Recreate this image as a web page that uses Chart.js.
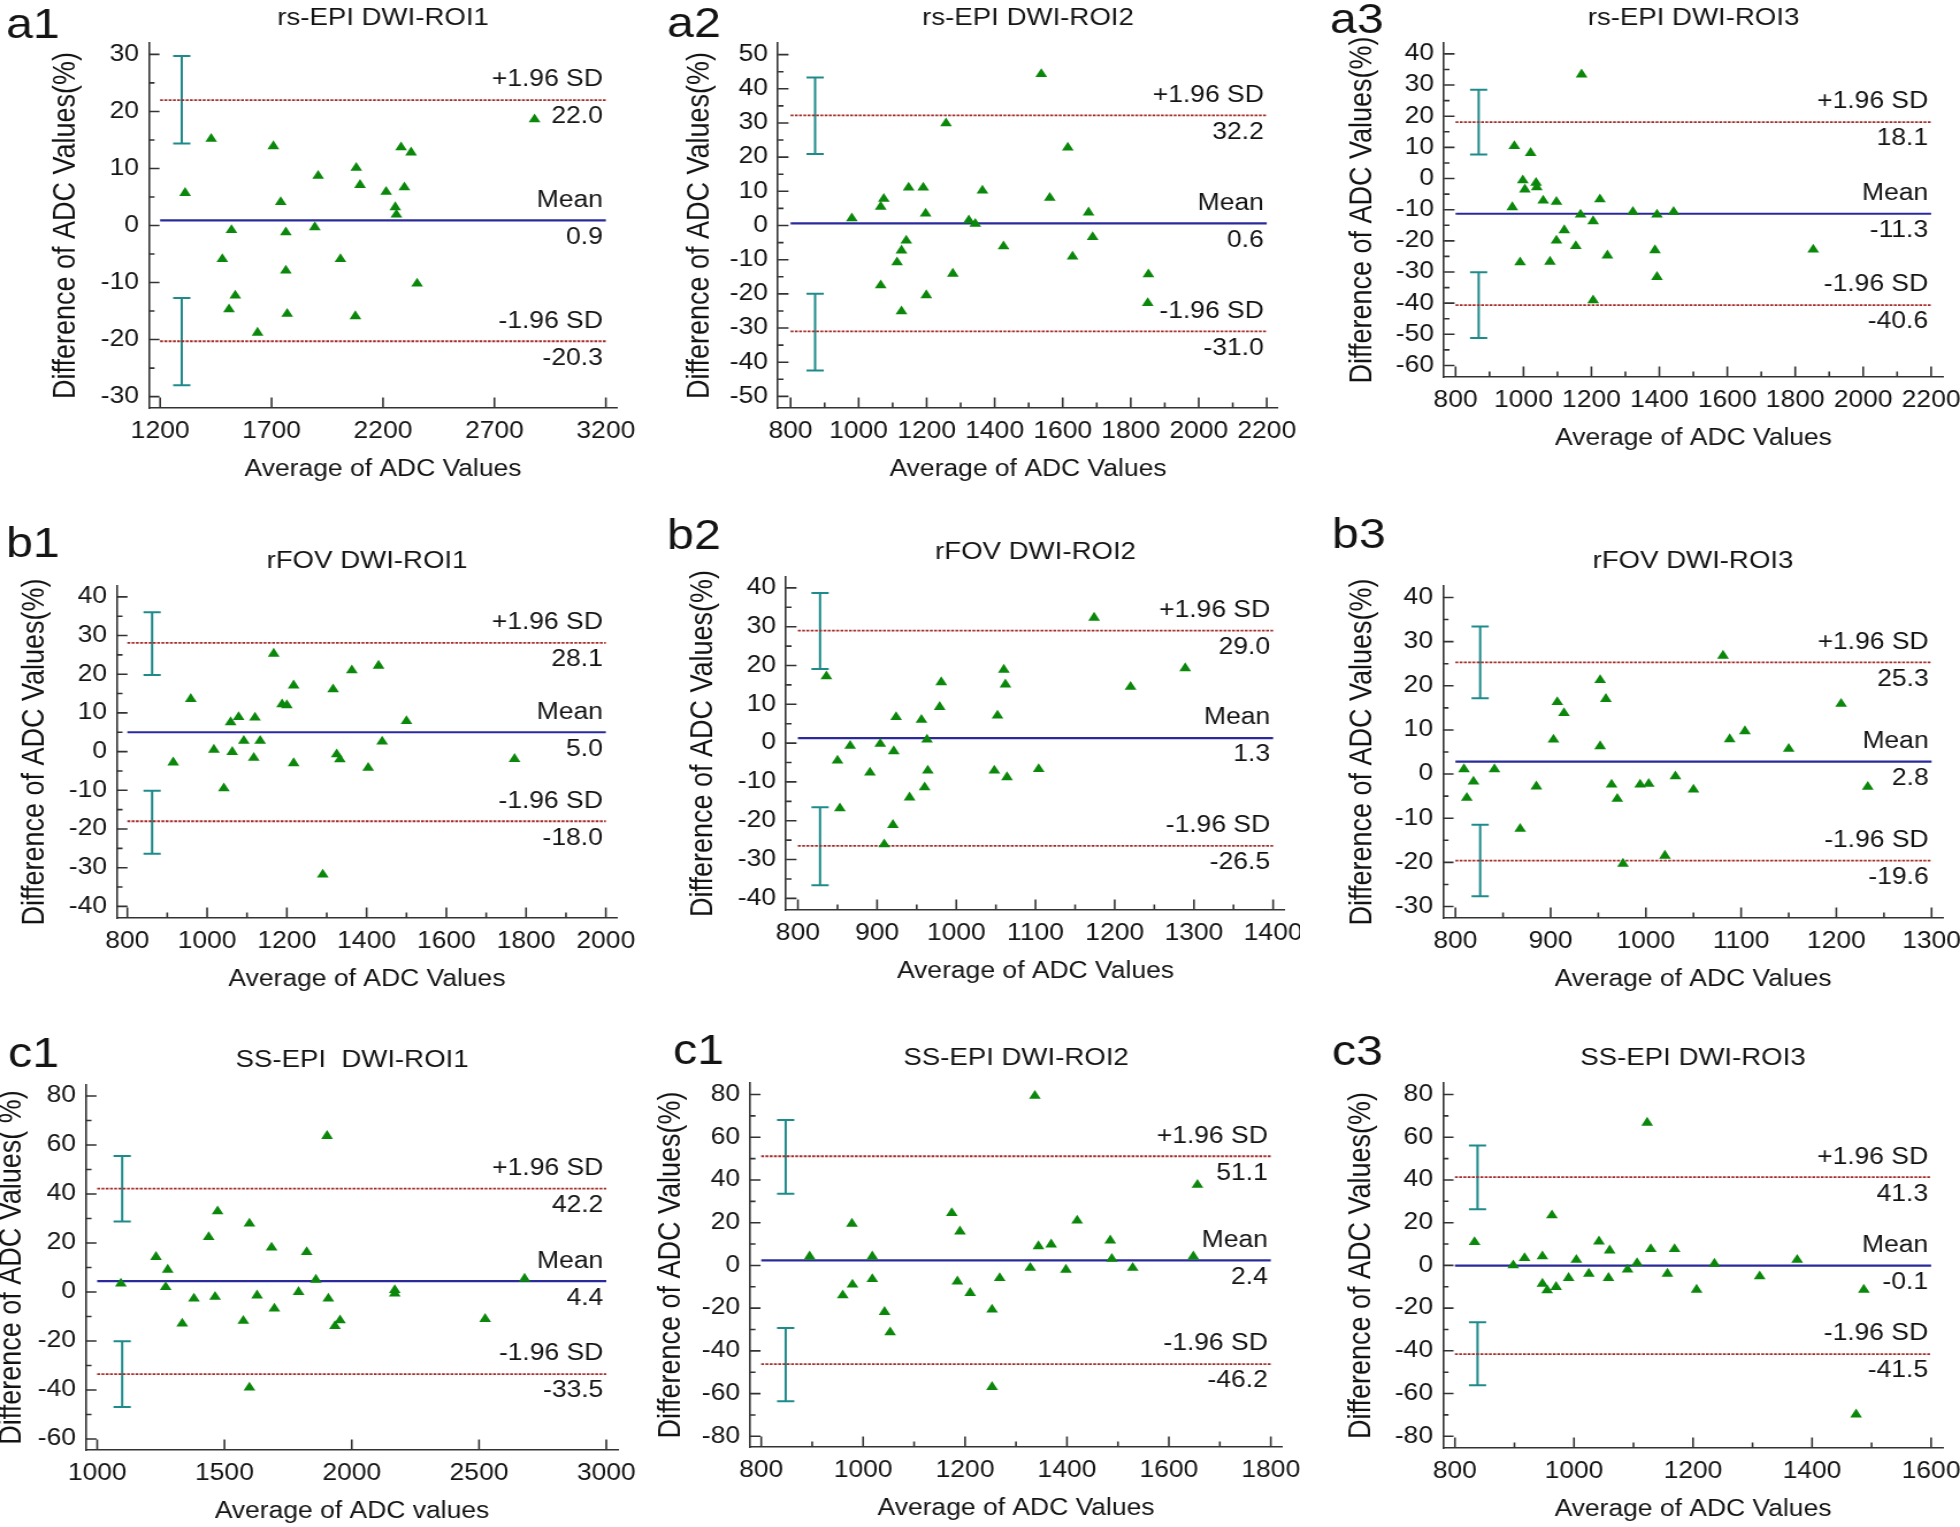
<!DOCTYPE html>
<html lang="en">
  <head>
    <meta charset="UTF-8">
    <meta name="viewport" content="width=device-width, initial-scale=1.0">
    <title>Bland-Altman plots of ADC values</title>
    <script src="https://cdn.jsdelivr.net/npm/chart.js@4.4.1/dist/chart.umd.min.js"></script>
    <style>
      html, body { margin: 0; background: #fff; }
      body { position: relative; width: 1960px; height: 1527px; overflow: hidden; }
      canvas { position: absolute; transform-origin: 0 0; }
    </style>
  </head>
  <body>
    <script type="text/javascript">
      // average of ADC values (x) and difference of ADC values in % (y)
      const a1X = [1312, 1429, 1520, 1479, 1537, 1509, 1637, 1708, 1741, 1764, 1764, 1770, 1894, 1909, 2009, 2080, 2097, 2076, 2214, 2255, 2260, 2281, 2296, 2326, 2353, 2880]
      const a1Y = [5.7, 15.2, -0.8, -5.9, -12.3, -14.7, -18.8, 13.9, 4.1, -1.2, -7.9, -15.5, -0.3, 8.7, -5.9, 10.1, 7.1, -15.9, 5.9, 3.2, 1.9, 13.7, 6.7, 12.8, -10.2, 18.6]
      const a2X = [980, 1065, 1074, 1065, 1113, 1126, 1140, 1126, 1147, 1190, 1197, 1199, 1257, 1277, 1324, 1343, 1364, 1426, 1537, 1562, 1615, 1629, 1676, 1688, 1852, 1850]
      const a2Y = [2.1, 5.5, 7.8, -17.5, -10.8, -7.3, -4.4, -25.1, 11.1, 11.1, 3.5, -20.4, 29.9, -14.1, 1.5, 0.5, 10.2, -6.1, 44.3, 8.1, 22.8, -9.1, 3.8, -3.4, -14.3, -22.7]
      const a3X = [967, 973, 990, 998, 1004, 1021, 1037, 1039, 1058, 1078, 1097, 1097, 1120, 1154, 1168, 1171, 1205, 1205, 1225, 1247, 1322, 1387, 1393, 1393, 1442, 1853]
      const a3Y = [-9.2, 10.4, -26.9, -0.6, -3.5, 8.2, -1.4, -2.8, -7.1, -26.7, -7.5, -19.9, -16.6, -21.7, -11.6, 33.4, -13.7, -39.1, -6.7, -24.7, -10.7, -23.0, -11.6, -31.6, -10.7, -22.8]
      const b1X = [915, 959, 1017, 1042, 1059, 1063, 1079, 1092, 1117, 1120, 1133, 1167, 1188, 1200, 1217, 1217, 1290, 1316, 1325, 1333, 1363, 1404, 1430, 1439, 1500, 1771]
      const b1Y = [-2.8, 13.6, 0.5, -9.5, 7.6, -0.1, 8.9, 2.8, -1.6, 8.8, 2.8, 25.3, 12.2, 12.0, 17.1, -3.0, -31.8, 16.1, -0.7, -2.0, 21.0, -4.2, 22.2, 2.6, 7.9, -1.9]
      const b2X = [836, 850, 853, 866, 891, 904, 909, 920, 921, 924, 941, 956, 960, 963, 964, 979, 981, 1048, 1052, 1060, 1062, 1064, 1104, 1174, 1220, 1289]
      const b2Y = [17.2, -4.5, -16.8, -0.7, -7.6, -0.2, -26.1, -21.1, -2.1, 6.7, -14.0, 6.0, -11.4, 0.9, -7.1, 9.3, 15.7, -7.1, 7.1, 18.9, 15.1, -8.8, -6.7, 32.3, 14.5, 19.3]
      const b3X = [809, 812, 819, 841, 868, 885, 903, 907, 914, 952, 952, 958, 964, 970, 976, 994, 1003, 1020, 1031, 1050, 1081, 1088, 1104, 1150, 1205, 1233]
      const b3Y = [1.1, -5.4, -1.7, 1.1, -12.4, -2.8, 7.8, 16.3, 13.8, 21.3, 6.3, 17.0, -2.4, -5.6, -20.3, -2.4, -2.2, -18.5, -0.5, -3.5, 26.8, 7.9, 9.7, 5.7, 15.9, -2.9]
      const c1X = [1093, 1231, 1269, 1277, 1334, 1380, 1438, 1463, 1473, 1574, 1598, 1598, 1628, 1685, 1696, 1791, 1823, 1859, 1903, 1908, 1934, 1954, 2169, 2169, 2524, 2679]
      const c1Y = [3.4, 14.3, 2.0, 9.1, -12.9, -2.7, 22.4, -2.0, 32.9, -11.8, 27.9, -39.0, -1.4, 18.1, -6.8, 0.0, 16.3, 5.0, 63.7, -2.7, -13.9, -11.6, 0.8, -0.6, -11.0, 5.4]
      const c2X = [895, 960, 978, 979, 1018, 1018, 1042, 1053, 1174, 1185, 1190, 1210, 1253, 1253, 1268, 1328, 1337, 1344, 1369, 1398, 1420, 1485, 1488, 1529, 1648, 1656]
      const c2Y = [4.2, -14.0, 19.5, -9.0, 4.2, -6.4, -21.8, -31.3, 24.5, -7.5, 15.9, -12.9, -20.7, -56.9, -5.9, -1.1, 79.4, 9.0, 9.8, -2.0, 21.0, 11.7, 3.1, -1.1, 4.2, 37.7]
      const c3X = [833, 898, 917, 947, 947, 955, 963, 970, 991, 1004, 1025, 1042, 1058, 1060, 1090, 1106, 1123, 1129, 1157, 1169, 1206, 1236, 1312, 1375, 1474, 1487]
      const c3Y = [10.9, 0.0, 3.4, 4.2, -8.6, -11.7, 23.4, -10.1, -5.9, 2.6, -3.9, 11.2, -5.9, 7.0, -2.0, 1.1, 66.8, 7.6, -3.9, 7.6, -11.4, 0.8, -5.1, 2.6, -69.8, -11.4]

      // +1.96 SD, mean, -1.96 SD
      const a1Lines = [22.0, 0.9, -20.3]
      const a2Lines = [32.2, 0.6, -31.0]
      const a3Lines = [18.1, -11.3, -40.6]
      const b1Lines = [28.1, 5.0, -18.0]
      const b2Lines = [29.0, 1.3, -26.5]
      const b3Lines = [25.3, 2.8, -19.6]
      const c1Lines = [42.2, 4.4, -33.5]
      const c2Lines = [51.1, 2.4, -46.2]
      const c3Lines = [41.3, -0.1, -41.5]

      // confidence intervals of the limits: x of the bars, [low, high] of each
      const barXs = [1297, 872, 868, 862, 828, 826, 1098, 848, 838]
      const barHighs = [[14.4, 29.7], [20.9, 43.3], [7.7, 28.5], [19.8, 36.0], [19.1, 38.7], [17.2, 33.4], [28.8, 55.5], [33.5, 68.1], [26.3, 56.1]]
      const barLows = [[-28.0, -12.7], [-42.4, -20.0], [-51.2, -30.1], [-26.4, -10.1], [-36.6, -16.5], [-27.7, -11.5], [-46.9, -20.1], [-63.6, -29.3], [-56.1, -26.6]]

      // tick labels
      const a1XTicks = [1200, 1700, 2200, 2700, 3200]
      const a1YTicks = [-30, -20, -10, 0, 10, 20, 30]
      const a2XTicks = [800, 1000, 1200, 1400, 1600, 1800, 2000, 2200]
      const a2YTicks = [-50, -40, -30, -20, -10, 0, 10, 20, 30, 40, 50]
      const a3XTicks = [800, 1000, 1200, 1400, 1600, 1800, 2000, 2200]
      const a3YTicks = [-60, -50, -40, -30, -20, -10, 0, 10, 20, 30, 40]
      const b1XTicks = [800, 1000, 1200, 1400, 1600, 1800, 2000]
      const b1YTicks = [-40, -30, -20, -10, 0, 10, 20, 30, 40]
      const b2XTicks = [800, 900, 1000, 1100, 1200, 1300, 1400]
      const b2YTicks = [-40, -30, -20, -10, 0, 10, 20, 30, 40]
      const b3XTicks = [800, 900, 1000, 1100, 1200, 1300]
      const b3YTicks = [-30, -20, -10, 0, 10, 20, 30, 40]
      const c1XTicks = [1000, 1500, 2000, 2500, 3000]
      const c1YTicks = [-60, -40, -20, 0, 20, 40, 60, 80]
      const c2XTicks = [800, 1000, 1200, 1400, 1600, 1800]
      const c2YTicks = [-80, -60, -40, -20, 0, 20, 40, 60, 80]
      const c3XTicks = [800, 1000, 1200, 1400, 1600]
      const c3YTicks = [-80, -60, -40, -20, 0, 20, 40, 60, 80]

      const tags = ['a1', 'a2', 'a3', 'b1', 'b2', 'b3', 'c1', 'c1', 'c3']
      const titles = ['rs-EPI DWI-ROI1', 'rs-EPI DWI-ROI2', 'rs-EPI DWI-ROI3',
        'rFOV DWI-ROI1', 'rFOV DWI-ROI2', 'rFOV DWI-ROI3',
        'SS-EPI  DWI-ROI1', 'SS-EPI DWI-ROI2', 'SS-EPI DWI-ROI3']
      const yTitles = ['Difference of ADC Values(%)', 'Difference of ADC Values(%)', 'Difference of ADC Values(%)',
        'Difference of ADC Values(%)', 'Difference of ADC Values(%)', 'Difference of ADC Values(%)',
        'Difference of ADC Values( %)', 'Difference of ADC Values(%)', 'Difference of ADC Values(%)']
      const xTitles = ['Average of ADC Values', 'Average of ADC Values', 'Average of ADC Values',
        'Average of ADC Values', 'Average of ADC Values', 'Average of ADC Values',
        'Average of ADC values', 'Average of ADC Values', 'Average of ADC Values']

      const panels = [
        {x: a1X, y: a1Y, lines: a1Lines, xTicks: a1XTicks, yTicks: a1YTicks, xMinor: 0, yMinor: 5},
        {x: a2X, y: a2Y, lines: a2Lines, xTicks: a2XTicks, yTicks: a2YTicks, xMinor: 100, yMinor: 5},
        {x: a3X, y: a3Y, lines: a3Lines, xTicks: a3XTicks, yTicks: a3YTicks, xMinor: 100, yMinor: 5},
        {x: b1X, y: b1Y, lines: b1Lines, xTicks: b1XTicks, yTicks: b1YTicks, xMinor: 100, yMinor: 5},
        {x: b2X, y: b2Y, lines: b2Lines, xTicks: b2XTicks, yTicks: b2YTicks, xMinor: 50, yMinor: 5},
        {x: b3X, y: b3Y, lines: b3Lines, xTicks: b3XTicks, yTicks: b3YTicks, xMinor: 50, yMinor: 5},
        {x: c1X, y: c1Y, lines: c1Lines, xTicks: c1XTicks, yTicks: c1YTicks, xMinor: 0, yMinor: 10},
        {x: c2X, y: c2Y, lines: c2Lines, xTicks: c2XTicks, yTicks: c2YTicks, xMinor: 100, yMinor: 10},
        {x: c3X, y: c3Y, lines: c3Lines, xTicks: c3XTicks, yTicks: c3YTicks, xMinor: 100, yMinor: 10}
      ]

      // page layout (page pixels): cell, plot area [left, top, right, bottom], axis extents, tag position, y title centre
      const boxes = [
        {cell: [0, 0, 650, 500], area: [149, 43, 617, 408], xRange: [1150, 3250], yRange: [-32, 32], tagAt: [6, 38], yTitleX: 66},
        {cell: [650, 0, 650, 500], area: [778, 43, 1278, 408], xRange: [763, 2233], yRange: [-53.4, 53.4], tagAt: [667, 37], yTitleX: 700},
        {cell: [1300, 0, 660, 500], area: [1444, 43, 1943, 377], xRange: [766, 2235], yRange: [-63.7, 43.5], tagAt: [1330, 33], yTitleX: 1363},
        {cell: [0, 500, 650, 510], area: [117, 586, 617, 918], xRange: [774, 2028], yRange: [-43, 42.8], tagAt: [6, 557], yTitleX: 35},
        {cell: [650, 500, 650, 510], area: [786, 577, 1285, 910], xRange: [785, 1415], yRange: [-43, 42.8], tagAt: [667, 549], yTitleX: 703},
        {cell: [1300, 500, 660, 510], area: [1443, 586, 1943, 918], xRange: [787, 1312], yRange: [-32.6, 42.6], tagAt: [1332, 548], yTitleX: 1363},
        {cell: [0, 1010, 650, 517], area: [86, 1085, 618, 1450], xRange: [956, 3046], yRange: [-64.5, 84.5], tagAt: [8, 1067], yTitleX: 12},
        {cell: [650, 1010, 650, 517], area: [750, 1083, 1282, 1447], xRange: [778, 1822], yRange: [-85, 85.4], tagAt: [673, 1064], yTitleX: 671},
        {cell: [1300, 1010, 660, 517], area: [1443, 1083, 1943, 1448], xRange: [780, 1620], yRange: [-85.5, 85.4], tagAt: [1332, 1065], yTitleX: 1361}
      ]

      const STRETCH = 1.15 // the original figure is a bit wider than tall
      const INK = '#141414'
      const AXIS = '#333333'
      const GREEN = '#0b880b'
      const BLUE = '#2a2a9c'
      const RED = '#a52a28'
      const TEAL = '#1e8a8a'
      const FONT = "'Liberation Sans', Arial, sans-serif"

      Chart.defaults.color = INK
      Chart.defaults.font.family = FONT

      function minorTicks(major, step) {
        const out = []
        if (!step) return out
        for (let v = major[0] + step; v < major[major.length - 1]; v += step) {
          if (!major.includes(v)) out.push(v)
        }
        return out
      }

      function drawPanel(p, i) {
        const g = boxes[i]
        const [cx, cy, cw, ch] = g.cell
        const [L, T, R, B] = g.area
        const W = Math.round(cw / STRETCH)
        const sx = cw / W
        const left = (L - cx) / sx
        const right = (R - cx) / sx

        const canvas = document.createElement('canvas')
        canvas.width = W
        canvas.height = ch
        Object.assign(canvas.style, {
          left: cx + 'px', top: cy + 'px', width: W + 'px', height: ch + 'px',
          transform: 'scaleX(' + sx + ')'
        })
        document.body.appendChild(canvas)

        const xFirst = p.xTicks[0]
        const xLast = p.xTicks[p.xTicks.length - 1]
        const [upper, mean, lower] = p.lines

        const hline = (v, color, width, dash) => ({
          data: [{x: xFirst, y: v}, {x: xLast, y: v}],
          showLine: true, borderColor: color, borderWidth: width, borderDash: dash, pointRadius: 0
        })
        const bar = lohi => ({
          data: [{x: barXs[i], y: lohi[0]}, {x: barXs[i], y: lohi[1]}],
          showLine: true, borderColor: TEAL, borderWidth: 2,
          pointStyle: 'line', pointRadius: 7.5, pointHoverRadius: 7.5,
          pointBorderColor: TEAL, pointBorderWidth: 2
        })

        const marks = {
          id: 'marks',
          beforeDatasetsDraw(chart) {
            const {ctx, chartArea: a, scales: {x, y}} = chart
            ctx.save()
            ctx.strokeStyle = AXIS
            ctx.lineWidth = 1.6
            ctx.beginPath()
            const xTick = (v, len) => {
              const px = x.getPixelForValue(v)
              ctx.moveTo(px, a.bottom)
              ctx.lineTo(px, a.bottom - len)
            }
            const yTick = (v, len) => {
              const py = y.getPixelForValue(v)
              ctx.moveTo(a.left, py)
              ctx.lineTo(a.left + len / sx, py)
            }
            p.xTicks.forEach(v => xTick(v, 10.5))
            minorTicks(p.xTicks, p.xMinor).forEach(v => xTick(v, 5.5))
            p.yTicks.forEach(v => yTick(v, 10.5))
            minorTicks(p.yTicks, p.yMinor).forEach(v => yTick(v, 5.5))
            ctx.stroke()
            ctx.restore()
          },
          afterDatasetsDraw(chart) {
            const {ctx, chartArea: a, scales: {x, y}} = chart
            ctx.save()
            ctx.fillStyle = INK
            ctx.textAlign = 'left'
            ctx.textBaseline = 'alphabetic'
            ctx.font = '42px ' + FONT
            ctx.fillText(tags[i], (g.tagAt[0] - cx) / sx, g.tagAt[1] - cy)

            ctx.font = '24px ' + FONT
            ctx.textAlign = 'center'
            ctx.textBaseline = 'middle'
            ctx.fillText(titles[i], (a.left + a.right) / 2, a.top - 25)

            ctx.font = '23px ' + FONT
            ctx.textAlign = 'right'
            const xr = x.getPixelForValue(xLast) - 3 / sx
            const labels = [['+1.96 SD', upper], ['Mean', mean], ['-1.96 SD', lower]]
            labels.forEach(([name, v]) => {
              const py = y.getPixelForValue(v)
              ctx.fillText(name, xr, py - 20)
              ctx.fillText(v.toFixed(1), xr, py + 17)
            })
            ctx.restore()
          }
        }

        const yTitleLine = 27 * 1.2
        const xTitleLine = 23 * 1.2
        const tickLine = 23 * 1.2

        new Chart(canvas, {
          type: 'scatter',
          data: {
            datasets: [
              {
                data: p.x.map((v, k) => ({x: v, y: p.y[k]})),
                pointStyle: 'triangle', pointRadius: 5.9, pointHoverRadius: 5.9,
                pointBackgroundColor: GREEN, pointBorderWidth: 0
              },
              hline(mean, BLUE, 2.2, []),
              hline(upper, RED, 1.8, [2.5, 1.2]),
              hline(lower, RED, 1.8, [2.5, 1.2]),
              bar(barHighs[i]),
              bar(barLows[i])
            ]
          },
          options: {
            responsive: false,
            animation: false,
            devicePixelRatio: 1,
            events: [],
            layout: {autoPadding: false, padding: {left: 0, top: T - cy, right: W - right, bottom: 0}},
            plugins: {legend: {display: false}, tooltip: {enabled: false}, title: {display: false}},
            scales: {
              x: {
                type: 'linear', min: g.xRange[0], max: g.xRange[1], bounds: 'data',
                afterBuildTicks: s => { s.ticks = p.xTicks.map(v => ({value: v})) },
                afterFit: s => { s.height = ch - (B - cy); s.paddingLeft = 0; s.paddingRight = 0 },
                grid: {display: false, drawTicks: false},
                border: {display: true, color: AXIS, width: 1.6},
                ticks: {
                  font: {size: 23}, padding: 24 - tickLine / 2, maxRotation: 0, minRotation: 0,
                  autoSkip: false, callback: v => String(v)
                },
                title: {
                  display: true, text: xTitles[i], font: {size: 23},
                  padding: {top: 0, bottom: (cy + ch) - (B + 62) - xTitleLine / 2}
                }
              },
              y: {
                type: 'linear', min: g.yRange[0], max: g.yRange[1], bounds: 'data',
                afterBuildTicks: s => { s.ticks = p.yTicks.map(v => ({value: v})) },
                afterFit: s => { s.width = left; s.paddingTop = 0; s.paddingBottom = 0 },
                grid: {display: false, drawTicks: false},
                border: {display: true, color: AXIS, width: 1.6},
                ticks: {font: {size: 23}, padding: 10 / sx, autoSkip: false, callback: v => String(v)},
                title: {
                  display: true, text: yTitles[i], font: {size: 27},
                  padding: {top: (g.yTitleX - cx) / sx - yTitleLine / 2, bottom: 0}
                }
              }
            }
          },
          plugins: [marks]
        })
      }

      panels.forEach(drawPanel)
    </script>
  </body>
</html>
